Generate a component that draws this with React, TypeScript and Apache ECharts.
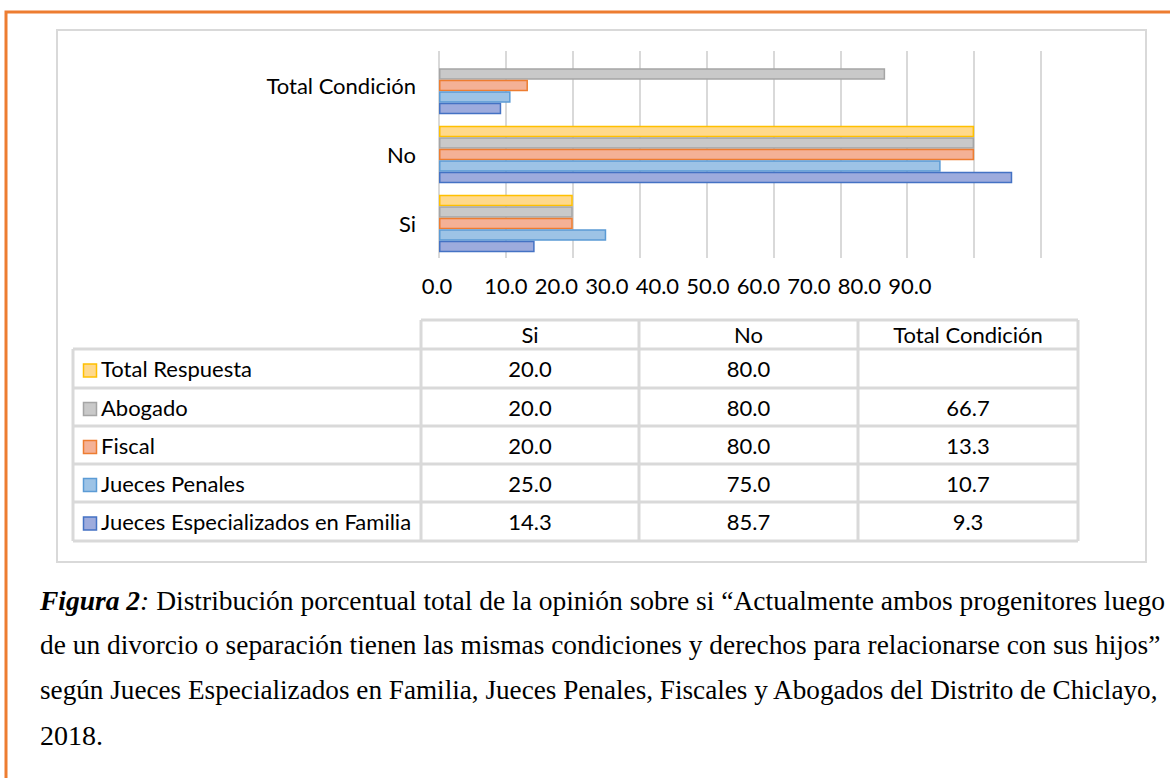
import React, { useEffect, useRef } from "react";
import * as echarts from "echarts";

// ---------- data ----------
const categories = ["Si", "No", "Total Condición"];
const familiaValues = [14.3, 85.7, 9.3];
const penalesValues = [25.0, 75.0, 10.7];
const fiscalValues = [20.0, 80.0, 13.3];
const abogadoValues = [20.0, 80.0, 66.7];
const totalRespuestaValues: (number | null)[] = [20.0, 80.0, null];
const tickLabels = ["0.0", "10.0", "20.0", "30.0", "40.0", "50.0", "60.0", "70.0", "80.0", "90.0"];
const tableColumns = ["Si", "No", "Total Condición"];

// table order (top to bottom); ECharts draws the first series at the top of each band
const seriesDefs = [
  { name: "Total Respuesta", values: totalRespuestaValues, fill: "#FFD98C", border: "#FFC000" },
  { name: "Abogado", values: abogadoValues, fill: "#C9C9C9", border: "#A5A5A5" },
  { name: "Fiscal", values: fiscalValues, fill: "#F4B196", border: "#ED7D31" },
  { name: "Jueces Penales", values: penalesValues, fill: "#9DC3E6", border: "#5B9BD5" },
  { name: "Jueces Especializados en Familia", values: familiaValues, fill: "#9DABDD", border: "#4472C4" },
];

const captionLines = [
  "Distribución porcentual total de la opinión sobre si “Actualmente ambos progenitores luego",
  "de un divorcio o separación tienen las mismas condiciones y derechos para relacionarse con sus hijos”",
  "según Jueces Especializados en Familia, Jueces Penales, Fiscales y Abogados del Distrito de Chiclayo,",
  "2018.",
];

// ---------- layout ----------
const W = 1170;
const H = 778;
const PLOT_L = 439;
const PLOT_R = 1041;
const PLOT_T = 51;
const PLOT_B = 258;
const SANS = "Lato, 'Noto Sans', sans-serif";
const SERIF = "'Liberation Serif', 'DejaVu Serif', serif";
const FS = 22;

export default function App() {
  const ref = useRef<HTMLDivElement>(null);

  useEffect(() => {
    if (!ref.current) return;
    const chart = echarts.init(ref.current, undefined, { renderer: "svg" });

    const graphic: any[] = [];
    // orange page frame
    graphic.push({
      type: "polyline",
      shape: { points: [[6, H + 10], [6, 12], [W + 10, 12]] },
      style: { stroke: "#ED7D31", lineWidth: 3, fill: "none" },
      silent: true,
    });
    // chart box
    graphic.push({
      type: "rect",
      shape: { x: 57, y: 30, width: 1089, height: 532 },
      style: { stroke: "#D9D9D9", lineWidth: 2, fill: "none" },
      silent: true,
    });

    // tick labels (Excel-like compressed placement)
    const unit = (PLOT_R - PLOT_L) / 90;
    tickLabels.forEach((t, i) => {
      const x = i === 0 ? PLOT_L - 2 : PLOT_L + 10 * unit + (i - 1) * 50.5;
      graphic.push({
        type: "text",
        style: { text: t, x, y: 285, align: "center", verticalAlign: "middle", font: `${FS}px ${SANS}`, fill: "#000" },
        silent: true,
      });
    });

    // data table
    const colX = [73, 421, 639, 858, 1078];
    const headerTop = 320;
    const rowY = [349, 388, 426, 464, 502, 541];
    const lineStyle = { stroke: "#D9D9D9", lineWidth: 3 };
    graphic.push({ type: "line", shape: { x1: colX[1], y1: headerTop, x2: colX[4], y2: headerTop }, style: lineStyle, silent: true });
    rowY.forEach((y) => {
      graphic.push({ type: "line", shape: { x1: colX[0], y1: y, x2: colX[4], y2: y }, style: lineStyle, silent: true });
    });
    graphic.push({ type: "line", shape: { x1: colX[0], y1: rowY[0], x2: colX[0], y2: rowY[5] }, style: lineStyle, silent: true });
    for (let c = 1; c < colX.length; c++) {
      graphic.push({ type: "line", shape: { x1: colX[c], y1: headerTop, x2: colX[c], y2: rowY[5] }, style: lineStyle, silent: true });
    }
    tableColumns.forEach((h, c) => {
      graphic.push({
        type: "text",
        style: {
          text: h, x: (colX[c + 1] + colX[c + 2]) / 2, y: (headerTop + rowY[0]) / 2,
          align: "center", verticalAlign: "middle", font: `${FS}px ${SANS}`, fill: "#000",
        },
        silent: true,
      });
    });
    seriesDefs.forEach((s, r) => {
      const cy = (rowY[r] + rowY[r + 1]) / 2;
      graphic.push({
        type: "rect",
        shape: { x: 83.5, y: cy - 4.5, width: 13, height: 13 },
        style: { fill: s.fill, stroke: s.border, lineWidth: 1.5 },
        silent: true,
      });
      graphic.push({
        type: "text",
        style: { text: s.name, x: 101, y: cy, align: "left", verticalAlign: "middle", font: `${FS}px ${SANS}`, fill: "#000" },
        silent: true,
      });
      s.values.forEach((v, c) => {
        graphic.push({
          type: "text",
          style: {
            text: v == null ? "" : v.toFixed(1), x: (colX[c + 1] + colX[c + 2]) / 2, y: cy,
            align: "center", verticalAlign: "middle", font: `${FS}px ${SANS}`, fill: "#000",
          },
          silent: true,
        });
      });
    });

    // caption
    const capY = [600, 645, 690, 735];
    const capFs = [27.5, 27.4, 27.2, 28];
    captionLines.forEach((line, i) => {
      const f = capFs[i];
      graphic.push({
        type: "text",
        style: i === 0
          ? {
              text: `{b|Figura 2}{i|:} {r|${line}}`,
              x: 40, y: capY[i], verticalAlign: "middle",
              rich: {
                b: { font: `italic bold ${f}px ${SERIF}`, fill: "#000" },
                i: { font: `italic ${f}px ${SERIF}`, fill: "#000" },
                r: { font: `${f}px ${SERIF}`, fill: "#000" },
              },
              font: `${f}px ${SERIF}`, fill: "#000",
            }
          : { text: line, x: 40, y: capY[i], verticalAlign: "middle", font: `${f}px ${SERIF}`, fill: "#000" },
        silent: true,
      });
    });

    chart.setOption({
      animation: false,
      backgroundColor: "#fff",
      grid: { left: PLOT_L, right: W - PLOT_R, top: PLOT_T, height: PLOT_B - PLOT_T, containLabel: false },
      xAxis: {
        type: "value",
        min: 0,
        max: 90,
        interval: 10,
        axisLabel: { show: false },
        axisLine: { show: false },
        axisTick: { show: false },
        splitLine: { show: true, lineStyle: { color: "#D9D9D9", width: 2 } },
      },
      yAxis: {
        type: "category",
        data: categories,
        axisLine: { show: false },
        axisTick: { show: false },
        axisLabel: { fontSize: FS, fontFamily: SANS, color: "#000", margin: 23 },
      },
      series: seriesDefs.map((s) => ({
        name: s.name,
        type: "bar",
        data: s.values,
        barGap: "0%",
        barCategoryGap: "16.7%",
        itemStyle: { color: s.fill, borderColor: s.border, borderWidth: 1.5 },
      })),
      graphic,
    });

    return () => chart.dispose();
  }, []);

  return <div ref={ref} style={{ position: "absolute", left: 0, top: 0, width: W, height: H }} />;
}
